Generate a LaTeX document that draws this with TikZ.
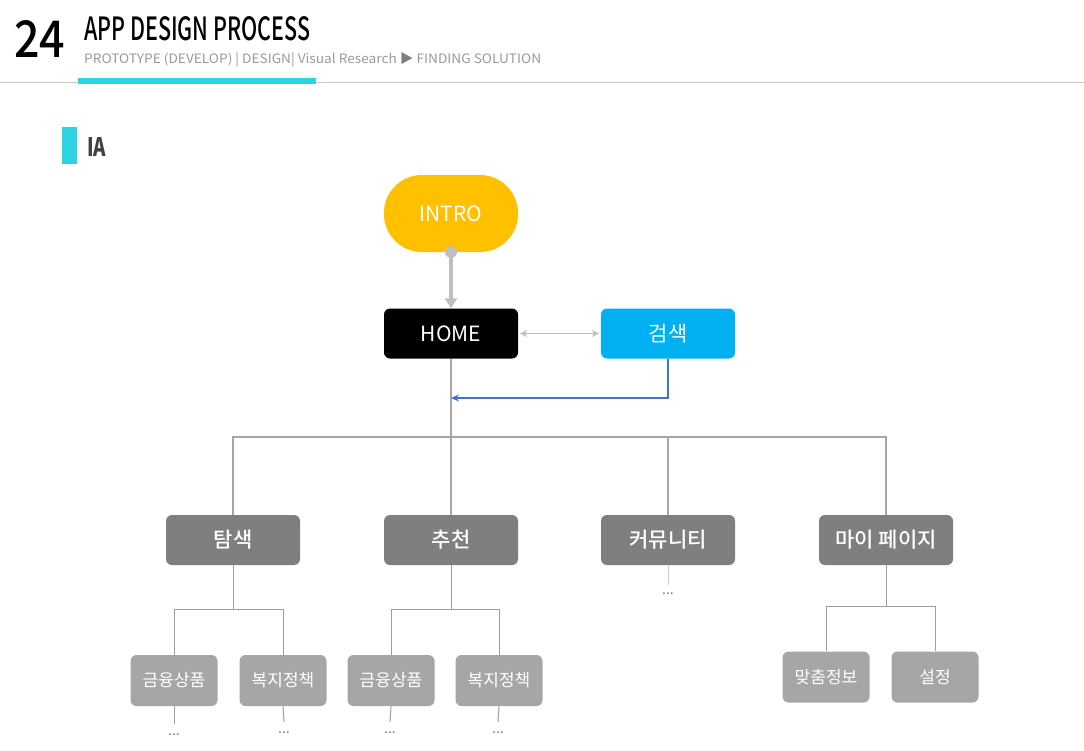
\documentclass[tikz,border=0pt]{standalone}
\usepackage{fontspec}
\usepackage{graphicx}
\setmainfont{Noto Sans CJK KR}
\newfontfamily\krmed{Noto Sans CJK KR Medium}
\usetikzlibrary{arrows.meta}
\definecolor{introY}{HTML}{FFC000}
\definecolor{searchB}{HTML}{00B0F0}
\definecolor{lvtwo}{HTML}{7F7F7F}
\definecolor{lvthree}{HTML}{A6A6A6}
\definecolor{linegray}{HTML}{A6A6A6}
\definecolor{thingray}{HTML}{9E9E9E}
\definecolor{accent}{HTML}{2BD4E0}
\definecolor{subgray}{HTML}{9A9A9A}
\definecolor{bluelink}{HTML}{4472C4}
\definecolor{rulegray}{HTML}{C8C8C8}
\definecolor{dotgray}{HTML}{BFBFBF}
\begin{document}
\begin{tikzpicture}[x=1pt,y=-1pt,
  box/.style={rectangle, rounded corners=6pt, minimum width=134pt, minimum height=50pt, inner sep=0pt, text=white, font=\fontsize{21}{21}\selectfont},
  sub/.style={rectangle, rounded corners=6pt, minimum width=87pt, minimum height=51pt, inner sep=0pt, text=white, fill=lvthree, font=\fontsize{17}{17}\selectfont},
  trunk/.style={draw=linegray, line width=2pt},
  thin/.style={draw=thingray, line width=1pt},
  dotsnode/.style={inner sep=0pt, text=gray, font=\fontsize{14}{14}\selectfont}
]
\useasboundingbox[fill=white] (0,0) rectangle (1084,750);
% header
\node[anchor=base west, inner sep=0pt] (num) at (14,57) {\resizebox{51pt}{37pt}{\krmed 24}};
\node[anchor=base west, inner sep=0pt] (title) at (84,40) {\resizebox{226pt}{24pt}{\krmed APP DESIGN PROCESS}};
\node[anchor=base west, inner sep=0pt, text=subgray] (subtitle) at (84,63) {\resizebox{457pt}{11pt}{PROTOTYPE (DEVELOP) | DESIGN| Visual Research {\color{lvtwo}▶} FINDING SOLUTION}};
\fill[rulegray] (0,81.5) rectangle (1084,83);
\fill[accent] (78,78) rectangle (316,84);
% IA
\fill[accent] (62,127) rectangle (77,164);
\node[anchor=base west, inner sep=0pt, text=black!75] (ia) at (87,156) {\resizebox{19pt}{19pt}{\bfseries IA}};
% top nodes
\node[box, fill=introY, rounded corners=38pt, minimum height=77pt] (intro) at (451,213.5) {INTRO};
\node[circle, fill=dotgray, minimum size=12pt, inner sep=0pt] (dot) at (451,252) {};
\node[box, fill=black] (home) at (451,333.5) {HOME};
\node[box, fill=searchB] (search) at (668,333.5) {검색};
\draw[draw=dotgray, line width=3.5pt, -{Triangle[length=10pt,width=12pt]}] (dot.center) -- (home.north);
\draw[draw=dotgray, line width=1.5pt, {Stealth[length=7pt,width=7pt]}-{Stealth[length=7pt,width=7pt]}, shorten <=2pt, shorten >=2pt] (home.east) -- (search.west);
\coordinate (hb) at (451,398);
\draw[draw=bluelink, line width=1.2pt, -{Stealth[length=8pt,width=7pt]}] (search.south) |- (hb);
% level 2
\node[box, fill=lvtwo, font=\fontsize{21}{21}\krmed] (explore) at (233,540) {탐색};
\node[box, fill=lvtwo, font=\fontsize{21}{21}\krmed] (recom) at (451,540) {추천};
\node[box, fill=lvtwo, font=\fontsize{21}{21}\krmed] (comm) at (668,540) {커뮤니티};
\node[box, fill=lvtwo, font=\fontsize{21}{21}\krmed] (mypage) at (886,540) {마이 페이지};
\coordinate (j0) at (451,437);
\draw[trunk] (home.south) -- (j0);
\draw[trunk] (j0) -| (explore.north);
\draw[trunk] (j0) -- (recom.north);
\draw[trunk] (j0) -| (comm.north);
\draw[trunk] (j0) -| (mypage.north);
% level 3 under explore
\node[sub] (a1) at (174,680.5) {금융상품};
\node[sub] (a2) at (283,680.5) {복지정책};
\coordinate (ja) at (233,609);
\draw[thin] (explore.south) -- (ja);
\draw[thin] (ja) -| (a1.north);
\draw[thin] (ja) -| (a2.north);
% under recom
\node[sub] (b1) at (391,680.5) {금융상품};
\node[sub] (b2) at (499,680.5) {복지정책};
\coordinate (jb) at (451,609);
\draw[thin] (recom.south) -- (jb);
\draw[thin] (jb) -| (b1.north);
\draw[thin] (jb) -| (b2.north);
% under mypage
\node[sub] (c1) at (826,677) {맞춤정보};
\node[sub] (c2) at (935,677) {설정};
\coordinate (jc) at (886,606);
\draw[thin] (mypage.south) -- (jc);
\draw[thin] (jc) -| (c1.north);
\draw[thin] (jc) -| (c2.north);
% dots
\node[dotsnode] (d1) at (174,735) {...};
\node[dotsnode] (d2) at (284,733) {...};
\node[dotsnode] (d3) at (390,733) {...};
\node[dotsnode] (d4) at (498,733) {...};
\node[dotsnode] (d5) at (668,594) {...};
\draw[thin] (a1.south) -- ([yshift=10pt]d1.north);
\draw[thin] (a2.south) -- ([yshift=10pt]d2.north);
\draw[thin] (b1.south) -- ([yshift=10pt]d3.north);
\draw[thin] (b2.south) -- ([yshift=10pt]d4.north);
\draw[draw=thingray!50, line width=0.8pt] (comm.south) -- ([yshift=8pt]d5.north);
\end{tikzpicture}
\end{document}
